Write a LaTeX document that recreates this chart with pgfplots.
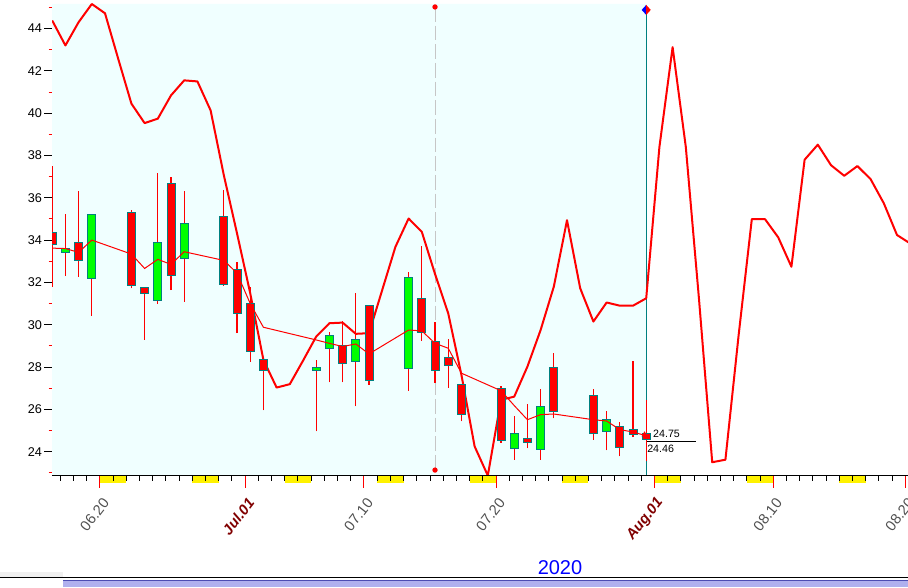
\documentclass[border=0pt]{standalone}
\usepackage{fontspec}
\setmainfont{Liberation Sans}
\usepackage{pgfplots}
\usepackage{pgfplotstable}
\pgfplotsset{compat=1.18}
\definecolor{bgcyan}{HTML}{F0FFFF}
\definecolor{cgreen}{HTML}{00FF00}
\definecolor{cred}{HTML}{FF0000}
\definecolor{outl}{HTML}{008080}
\definecolor{darkred}{HTML}{800000}
\definecolor{lblgray}{HTML}{505050}
\definecolor{lav}{HTML}{B0B0EE}

% candle bodies: x, body bottom, body top, up (1 = green body)
\pgfplotstableread{
x bb bt up
16.38 33.80 34.36 0
17.38 33.42 33.61 1
18.38 33.04 33.89 0
19.38 32.19 35.21 1
22.38 31.86 35.31 0
23.38 31.49 31.77 0
24.38 31.14 33.89 1
25.38 32.32 36.69 0
26.38 33.14 34.79 1
29.38 31.91 35.12 0
30.38 30.54 32.63 0
31.38 28.72 31.01 0
32.38 27.82 28.37 0
36.38 27.84 27.98 1
37.38 28.89 29.50 1
38.38 28.18 29.03 0
39.38 28.26 29.31 1
40.38 27.38 30.92 0
43.38 27.95 32.24 1
44.38 29.65 31.22 0
45.38 27.85 29.22 0
46.38 28.09 28.47 0
47.38 25.78 27.19 0
50.38 24.55 26.99 0
51.38 24.17 24.88 1
52.38 24.41 24.60 0
53.38 24.08 26.15 1
54.38 25.92 27.99 0
57.38 24.85 26.67 0
58.38 24.96 25.51 1
59.38 24.19 25.19 0
60.38 24.83 25.07 0
61.38 24.57 24.88 0
}\candles

% wicks: low and high of each candle, nan separates the candles
\pgfplotstableread{
x y
16.38 31.80
16.38 37.50
16.38 nan
17.38 32.30
17.38 35.23
17.38 nan
18.38 32.27
18.38 36.31
18.38 nan
19.38 30.43
19.38 35.21
19.38 nan
22.38 31.72
22.38 35.42
22.38 nan
23.38 29.28
23.38 31.77
23.38 nan
24.38 30.98
24.38 37.18
24.38 nan
25.38 31.64
25.38 36.97
25.38 nan
26.38 31.08
26.38 36.31
26.38 nan
29.38 31.85
29.38 36.36
29.38 nan
30.38 29.60
30.38 32.96
30.38 nan
31.38 28.26
31.38 31.80
31.38 nan
32.38 25.95
32.38 28.37
32.38 nan
36.38 24.96
36.38 28.34
36.38 nan
37.38 27.27
37.38 29.66
37.38 nan
38.38 27.27
38.38 30.19
38.38 nan
39.38 26.14
39.38 31.48
39.38 nan
40.38 27.17
40.38 30.92
40.38 nan
43.38 26.89
43.38 32.49
43.38 nan
44.38 29.25
44.38 33.72
44.38 nan
45.38 27.24
45.38 30.13
45.38 nan
46.38 27.03
46.38 29.31
46.38 nan
47.38 25.43
47.38 27.19
47.38 nan
50.38 24.41
50.38 27.11
50.38 nan
51.38 23.62
51.38 25.67
51.38 nan
52.38 24.15
52.38 26.26
52.38 nan
53.38 23.62
53.38 26.97
53.38 nan
54.38 25.57
54.38 28.64
54.38 nan
57.38 24.57
57.38 26.97
57.38 nan
58.38 24.06
58.38 25.90
58.38 nan
59.38 23.78
59.38 25.42
59.38 nan
60.38 24.69
60.38 28.29
60.38 nan
61.38 23.55
61.38 26.45
}\wicks

\pgfplotstableread{
x y
16.38 44.38
17.38 43.20
18.38 44.30
19.38 45.16
20.38 44.72
21.38 42.57
22.38 40.45
23.38 39.53
24.38 39.74
25.38 40.84
26.38 41.55
27.38 41.50
28.38 40.13
29.38 37.07
30.38 34.32
31.38 31.49
32.38 28.34
33.38 27.03
34.38 27.19
35.38 28.30
36.38 29.44
37.38 30.07
38.38 30.10
39.38 29.57
40.38 29.60
41.38 31.64
42.38 33.68
43.38 35.02
44.38 34.39
45.38 32.40
46.38 30.54
47.38 27.63
48.38 24.25
49.38 22.87
50.38 26.45
51.38 26.60
52.38 28.02
53.38 29.75
54.38 31.80
55.38 34.94
56.38 31.72
57.38 30.15
58.38 31.05
59.38 30.90
60.38 30.90
61.38 31.25
62.38 38.40
63.38 43.12
64.38 38.40
65.38 31.20
66.38 23.50
67.38 23.62
68.38 29.50
69.38 34.99
70.38 34.99
71.38 34.13
72.38 32.74
73.38 37.80
74.38 38.51
75.38 37.54
76.38 37.04
77.38 37.50
78.38 36.88
79.38 35.74
80.38 34.24
81.38 33.84
}\thickline

\pgfplotstableread{
x y
16.38 33.62
17.38 33.60
18.38 33.42
19.38 34.00
22.38 33.34
23.38 32.66
24.38 33.09
25.38 32.85
26.38 33.45
29.38 33.04
30.38 32.44
31.38 31.00
32.38 29.88
36.38 29.28
37.38 29.12
38.38 28.97
39.38 29.09
40.38 28.62
43.38 29.75
44.38 29.71
45.38 29.12
46.38 28.89
47.38 27.71
50.38 26.88
51.38 26.18
52.38 25.51
53.38 25.75
54.38 25.78
57.38 25.51
58.38 25.45
59.38 25.04
60.38 24.93
61.38 24.75
}\thinline

\pgfdeclareplotmark{halfdiamond}{%
  \pgfsetfillcolor{blue}%
  \pgfpathmoveto{\pgfqpoint{0pt}{3.75pt}}\pgfpathlineto{\pgfqpoint{-3.4pt}{0pt}}%
  \pgfpathlineto{\pgfqpoint{0pt}{-3.75pt}}\pgfpathclose\pgfusepath{fill}%
  \pgfsetfillcolor{red}%
  \pgfpathmoveto{\pgfqpoint{0pt}{3.75pt}}\pgfpathlineto{\pgfqpoint{3.4pt}{0pt}}%
  \pgfpathlineto{\pgfqpoint{0pt}{-3.75pt}}\pgfpathclose\pgfusepath{fill}%
}

\pgfplotsset{
  base/.style={
    scale only axis, width=642pt, height=354pt,
    xmin=16.364, xmax=81.212, ymin=22.85, ymax=45.16,
    at={(39pt,84pt)}, anchor=south west,
  }
}

\begin{document}
\begin{tikzpicture}
\path[use as bounding box] (0,0) rectangle (681pt,441pt);

% ---------- axis A: background, y axis, thick line, wicks ----------
\begin{axis}[base,
  axis x line=none, axis y line*=left,
  axis line style={black, line width=0.75pt},
  ytick={24,26,...,44}, minor ytick={23,25,...,45},
  tick align=outside, major tick length=5.8pt, minor tick length=2.6pt,
  major tick style={black, line width=0.75pt},
  minor tick style={cred, line width=0.75pt},
  yticklabel style={font=\fontsize{9.5}{11}\selectfont, inner sep=1.5pt, text=black},
  /pgf/number format/assume math mode=true,
  unbounded coords=jump,
]
\addplot[fill=bgcyan, draw=none] coordinates {(16.364,22.85) (61.38,22.85) (61.38,45.16) (16.364,45.16) (16.364,22.85)};
\addplot[color=gray!45, line width=0.75pt, dash pattern=on 11pt off 3pt, mark=*, mark size=1.6pt,
  mark options={solid, fill=cred, draw=cred}] coordinates {(45.38,45.02) (45.38,23.13)};
\addplot[outl, line width=0.75pt] coordinates {(61.38,22.85) (61.38,44.88)};
\addplot[only marks, mark=halfdiamond] coordinates {(61.38,44.88)};
\addplot[cred, line width=1.5pt, line join=round] table[x=x, y=y] {\thickline};
\addplot[draw=cred, line width=1pt, mark=none] table[x=x, y=y] {\wicks};
\end{axis}

% ---------- axis B: candle bodies, x axis ----------
\begin{axis}[base,
  axis y line=none, axis x line*=bottom,
  axis line style={black, line width=0.75pt},
  axis on top=true,
  ybar stacked, bar width=6pt, clip mode=individual,
  xtick={20,31,40,50,62,71,81},
  xticklabels={06.20, {\color{darkred}\bfseries\itshape\raisebox{-0.45ex}{Jul.01}}, 07.10, 07.20, {\color{darkred}\bfseries\itshape\raisebox{-0.45ex}{Aug.01}}, 08.10, 08.20},
  minor xtick={17,...,81},
  tick align=outside, major tick length=9pt, minor tick length=3.75pt,
  major tick style={cred, line width=0.75pt},
  minor tick style={black, line width=0.75pt},
  xticklabel style={xshift=4.5pt, yshift=-9pt, rotate=52, anchor=east, inner sep=0pt,
    font=\fontsize{11}{12}\selectfont, text=lblgray},
]
\addplot[draw=none, fill=none] table[x=x, y=bb] {\candles};
\addplot[draw=outl, fill=cred, line width=0.75pt] table[x=x, y expr={(1-\thisrow{up})*(\thisrow{bt}-\thisrow{bb})}] {\candles};
\addplot[draw=outl, fill=cgreen, line width=0.75pt] table[x=x, y expr={\thisrow{up}*(\thisrow{bt}-\thisrow{bb})}] {\candles};
\fill[yellow] (axis cs:20,22.85) rectangle ([yshift=-5.25pt]axis cs:22,22.85);
\fill[yellow] (axis cs:27,22.85) rectangle ([yshift=-5.25pt]axis cs:29,22.85);
\fill[yellow] (axis cs:34,22.85) rectangle ([yshift=-5.25pt]axis cs:36,22.85);
\fill[yellow] (axis cs:41,22.85) rectangle ([yshift=-5.25pt]axis cs:43,22.85);
\fill[yellow] (axis cs:48,22.85) rectangle ([yshift=-5.25pt]axis cs:50,22.85);
\fill[yellow] (axis cs:55,22.85) rectangle ([yshift=-5.25pt]axis cs:57,22.85);
\fill[yellow] (axis cs:62,22.85) rectangle ([yshift=-5.25pt]axis cs:64,22.85);
\fill[yellow] (axis cs:69,22.85) rectangle ([yshift=-5.25pt]axis cs:71,22.85);
\fill[yellow] (axis cs:76,22.85) rectangle ([yshift=-5.25pt]axis cs:78,22.85);
\end{axis}

% ---------- axis C: thin line and annotations ----------
\begin{axis}[base, hide axis]
\addplot[cred, line width=0.75pt] table[x=x, y=y] {\thinline};
\addplot[only marks, mark=triangle*, mark size=2.2pt, mark options={cred}] coordinates {(61.25,24.80)};
\addplot[black, line width=0.75pt] coordinates {(61.44,24.46) (65.15,24.46)};
\node[anchor=west, inner sep=0pt, font=\fontsize{8}{9}\selectfont] at (axis cs:61.89,24.84) {24.75};
\node[anchor=west, inner sep=0pt, font=\fontsize{8}{9}\selectfont] at (axis cs:61.44,24.14) {24.46};
\end{axis}

\node[text=blue, font=\fontsize{15}{16}\selectfont] at (420pt,15pt) {2020};
\fill[gray!12] (0,7.5pt) rectangle (47pt,12pt);
\draw[black, line width=0.75pt] (0,7.5pt) -- (681pt,7.5pt);
\fill[lav] (47.25pt,0.4pt) rectangle (681pt,5.6pt);
\draw[color=gray!60!blue, line width=0.5pt] (47.25pt,5.6pt) -- (681pt,5.6pt);
\end{tikzpicture}
\end{document}
